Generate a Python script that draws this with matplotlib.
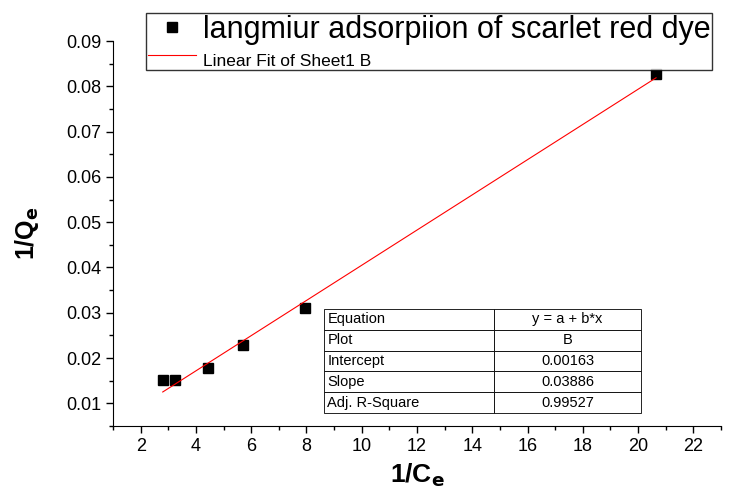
import matplotlib.pyplot as plt
from matplotlib.ticker import MultipleLocator

plt.rcParams['font.family'] = ['Liberation Sans', 'DejaVu Sans']

# data
inv_ce = [2.8, 3.25, 4.45, 5.7, 7.95, 20.65]
inv_qe = [0.0152, 0.0152, 0.0177, 0.0228, 0.0310, 0.0828]
fit_a = 0.00163
fit_b = 0.003886

table_rows = [["Equation", "y = a + b*x"],
              ["Plot", "B"],
              ["Intercept", "0.00163"],
              ["Slope", "0.03886"],
              ["Adj. R-Square", "0.99527"]]

fig = plt.figure(figsize=(7.37, 4.93), dpi=100)
ax = fig.add_axes([113 / 737, 1 - 426 / 493, 608 / 737, 385 / 493])

pts, = ax.plot(inv_ce, inv_qe, 's', color='black', markersize=7.5,
               linestyle='none', label='langmiur adsorpiion of scarlet red dye')
x0, x1 = min(inv_ce), max(inv_ce)
fit, = ax.plot([x0, x1], [fit_a + fit_b * x0, fit_a + fit_b * x1], color='red',
               linewidth=0.8, label='Linear Fit of Sheet1 B')

ax.set_xlim(1, 23)
ax.set_ylim(0.005, 0.09)
ax.xaxis.set_minor_locator(MultipleLocator(1))
ax.yaxis.set_minor_locator(MultipleLocator(0.005))
ax.set_xticks(range(2, 23, 2))
ax.set_yticks([0.01 * i for i in range(1, 10)])
ax.set_yticklabels(['%.2f' % (0.01 * i) for i in range(1, 10)])
ax.tick_params(which='major', direction='out', length=5, width=1, labelsize=13)
ax.tick_params(which='minor', direction='out', length=3, width=1)
for s in ['top', 'right']:
    ax.spines[s].set_visible(False)

ax.set_xlabel('1/C$_\\mathbf{e}$', fontsize=19, fontweight='bold', labelpad=5)
ax.set_ylabel('1/Q$_\\mathbf{e}$', fontsize=18, fontweight='bold', labelpad=18)

leg = fig.legend(handles=[pts, fit], loc='upper left',
                 bbox_to_anchor=(146 / 737, 1 - 13 / 493), fontsize=22,
                 frameon=True, fancybox=False, edgecolor='black',
                 handlelength=1.6, handletextpad=0.2, borderpad=0.05,
                 labelspacing=0.0, borderaxespad=0)
leg.get_frame().set_linewidth(1)
leg.get_texts()[1].set_fontsize(12.5)

tbl = ax.table(cellText=table_rows, colWidths=[170, 147],
               bbox=[(324 - 113) / 608, (426 - 413) / 385,
                     (641 - 324) / 608, (413 - 309) / 385])
tbl.auto_set_font_size(False)
tbl.set_fontsize(10.5)
for (r, c), cell in tbl.get_celld().items():
    cell.set_linewidth(0.6)
    if c == 0:
        cell.get_text().set_ha('left')
        cell.PAD = 0.02
    else:
        cell.get_text().set_ha('center')

fig.savefig('out.png', dpi=100)
